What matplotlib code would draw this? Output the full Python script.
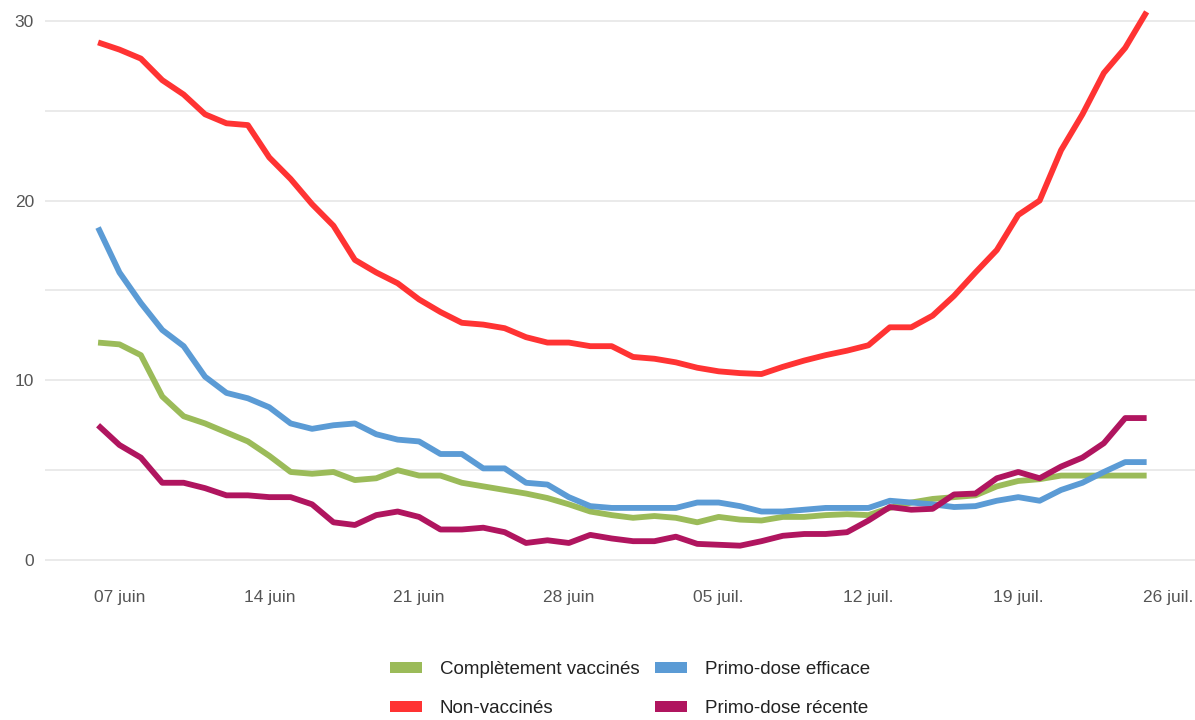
import numpy as np
import pandas as pd
import matplotlib
matplotlib.use("Agg")
import matplotlib.pyplot as plt
from matplotlib.patches import Patch

plt.rcParams["font.family"] = ["Liberation Sans", "DejaVu Sans"]

dates = pd.date_range("2021-06-06", "2021-07-25", freq="D")

non_vaccines = [28.8, 28.4, 27.9, 26.7, 25.9, 24.8, 24.3, 24.2, 22.4, 21.2,
                19.8, 18.6, 16.7, 16.0, 15.4, 14.5, 13.8, 13.2, 13.1, 12.9,
                12.4, 12.1, 12.1, 11.9, 11.9, 11.3, 11.2, 11.0, 10.7, 10.5,
                10.4, 10.35, 10.75, 11.1, 11.4, 11.65, 11.95, 12.95, 12.95, 13.6,
                14.7, 16.0, 17.25, 19.2, 20.0, 22.8, 24.8, 27.1, 28.5, 30.5]
completement = [12.1, 12.0, 11.4, 9.1, 8.0, 7.6, 7.1, 6.6, 5.8, 4.9,
                4.8, 4.9, 4.45, 4.55, 5.0, 4.7, 4.7, 4.3, 4.1, 3.9,
                3.7, 3.45, 3.1, 2.7, 2.5, 2.35, 2.45, 2.35, 2.1, 2.4,
                2.25, 2.2, 2.4, 2.4, 2.5, 2.55, 2.5, 2.9, 3.2, 3.4,
                3.5, 3.6, 4.1, 4.4, 4.5, 4.7, 4.7, 4.7, 4.7, 4.7]
primo_efficace = [18.5, 16.0, 14.3, 12.8, 11.9, 10.2, 9.3, 9.0, 8.5, 7.6,
                  7.3, 7.5, 7.6, 7.0, 6.7, 6.6, 5.9, 5.9, 5.1, 5.1,
                  4.3, 4.2, 3.5, 3.0, 2.9, 2.9, 2.9, 2.9, 3.2, 3.2,
                  3.0, 2.7, 2.7, 2.8, 2.9, 2.9, 2.9, 3.3, 3.2, 3.1,
                  2.95, 3.0, 3.3, 3.5, 3.3, 3.9, 4.3, 4.9, 5.45, 5.45]
primo_recente = [7.5, 6.4, 5.7, 4.3, 4.3, 4.0, 3.6, 3.6, 3.5, 3.5,
                 3.1, 2.1, 1.95, 2.5, 2.7, 2.4, 1.7, 1.7, 1.8, 1.55,
                 0.95, 1.1, 0.95, 1.4, 1.2, 1.05, 1.05, 1.3, 0.9, 0.85,
                 0.8, 1.05, 1.35, 1.45, 1.45, 1.55, 2.2, 2.95, 2.8, 2.85,
                 3.65, 3.7, 4.55, 4.9, 4.55, 5.2, 5.7, 6.5, 7.9, 7.9]

labels = ["Complètement vaccinés", "Non-vaccinés", "Primo-dose efficace", "Primo-dose récente"]
colors = ["#9bbb59", "#ff3333", "#5b9bd5", "#b0155f"]
series = [completement, non_vaccines, primo_efficace, primo_recente]

fig = plt.figure(figsize=(11.95, 7.2), dpi=100)
ax = fig.add_axes([45 / 1195, 1 - 580 / 720, 1150 / 1195, 580 / 720])

for vals, c in zip(series, colors):
    ax.plot(dates, vals, color=c, lw=4.2, solid_capstyle="butt", zorder=3)

ax.set_ylim(-1.11, 31.16)
ax.set_xlim(dates[0] - pd.Timedelta(days=2.48), dates[0] + pd.Timedelta(days=51.26))
for g in range(0, 31, 5):
    ax.axhline(g, color="#e8e8e8", lw=1.3, zorder=1)
ax.set_yticks([0, 10, 20, 30])

ticks = pd.date_range("2021-06-07", "2021-07-26", freq="7D")
months = {6: "juin", 7: "juil."}
ax.set_xticks(ticks)
ax.set_xticklabels([f"{d.day:02d} {months[d.month]}" for d in ticks])

ax.tick_params(axis="both", length=0, labelsize=12.5, colors="#555555")
ax.tick_params(axis="x", pad=7)
ax.tick_params(axis="y", pad=8)
for s in ax.spines.values():
    s.set_visible(False)

handles = [Patch(facecolor=c, edgecolor="none") for c in colors]
leg = fig.legend(handles, labels, ncol=2, loc="center", bbox_to_anchor=(630 / 1195, 1 - 689 / 720),
                 frameon=False, fontsize=13.5, labelspacing=1.15, handlelength=1.7, handleheight=0.55,
                 handletextpad=0.95, columnspacing=0.85)
for t in leg.get_texts():
    t.set_color("#222222")

fig.savefig("out.png", dpi=100)
